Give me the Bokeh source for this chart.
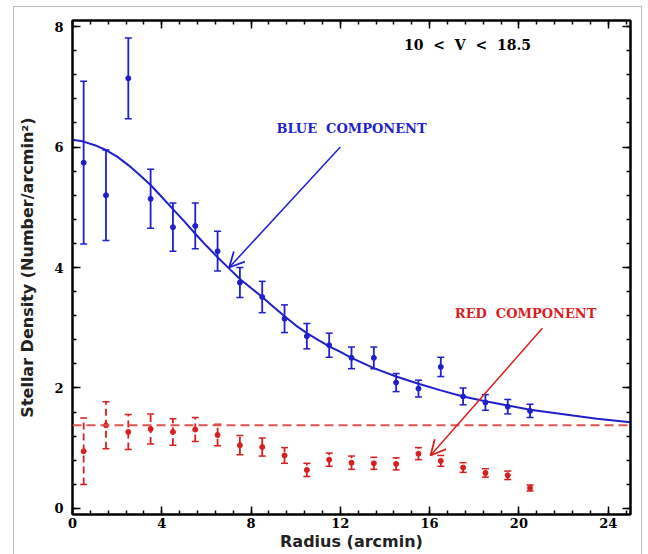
import numpy as np
from bokeh.plotting import figure
from bokeh.models import (ColumnDataSource, Whisker, TeeHead, Arrow, OpenHead, Span,
                          LinearAxis, SingleIntervalTicker, Range1d, Label,
                          CustomJSTickFormatter, InlineStyleSheet)
from bokeh.embed import file_html
from bokeh.resources import INLINE

# ---- data ----
radius = [0.5, 1.5, 2.5, 3.5, 4.5, 5.5, 6.5, 7.5, 8.5, 9.5, 10.5,
          11.5, 12.5, 13.5, 14.5, 15.5, 16.5, 17.5, 18.5, 19.5, 20.5]
blue_density = [5.74, 5.20, 7.14, 5.14, 4.67, 4.69, 4.27, 3.75, 3.51, 3.15, 2.86,
                2.71, 2.50, 2.50, 2.09, 1.99, 2.35, 1.86, 1.76, 1.69, 1.62]
blue_err = [1.35, 0.75, 0.67, 0.49, 0.40, 0.38, 0.33, 0.25, 0.26, 0.23, 0.21,
            0.20, 0.18, 0.18, 0.15, 0.14, 0.16, 0.14, 0.13, 0.12, 0.11]
red_density = [0.95, 1.38, 1.27, 1.32, 1.27, 1.31, 1.22, 1.05, 1.02, 0.88, 0.64,
               0.81, 0.76, 0.75, 0.74, 0.91, 0.79, 0.68, 0.59, 0.55, 0.34]
red_err = [0.55, 0.39, 0.29, 0.25, 0.22, 0.20, 0.18, 0.16, 0.15, 0.13, 0.11,
           0.11, 0.11, 0.10, 0.10, 0.10, 0.09, 0.08, 0.07, 0.07, 0.05]

# fitted profile (blue curve)
curve_r = [0, 0.5, 1.0, 1.5, 2.0, 2.5, 3.0, 3.5, 4.0, 4.5, 5.0, 5.5, 6.0, 6.5, 7.0,
           7.5, 8.0, 8.5, 9.0, 9.5, 10.0, 10.5, 11.0, 11.5, 12.0, 12.5, 13.5, 14.5,
           15.5, 16.5, 17.5, 18.5, 19.5, 20.5, 21.5, 22.5, 23.5, 25]
curve_d = [6.12, 6.09, 6.03, 5.95, 5.84, 5.70, 5.54, 5.37, 5.17, 4.97, 4.77, 4.56,
           4.36, 4.17, 3.99, 3.81, 3.66, 3.51, 3.35, 3.19, 3.04, 2.91, 2.80, 2.69,
           2.60, 2.50, 2.33, 2.19, 2.07, 1.96, 1.86, 1.78, 1.71, 1.64, 1.59, 1.54,
           1.49, 1.43]

red_background = 1.38

NB = "\u00a0"
# annotations
blue_label = ("BLUE" + NB * 2 + "COMPONENT", 12.5, 6.31)
red_label = ("RED" + NB * 2 + "COMPONENT", 20.3, 3.23)
mag_label = (("10", "<", "V", "<", "18.5"), 17.7, 7.69)
blue_arrow = (12.0, 6.0, 7.02, 4.0)
red_arrow = (21.05, 2.99, 16.04, 0.88)

BLUE = "#1f1fcc"
RED = "#d81e1e"
RED_LINE = "#e05252"

p = figure(width=648, height=554, x_range=Range1d(0, 25), y_range=Range1d(-0.1, 8.1),
           output_backend="svg", toolbar_location=None,
           min_border_left=72, min_border_right=18, min_border_top=20, min_border_bottom=40)
p.grid.visible = False
p.outline_line_color = "black"
p.outline_line_width = 2
p.background_fill_color = "white"
p.border_fill_color = "white"

# thin grey frame of the original screenshot, drawn by CSS around the canvas
p.stylesheets = [InlineStyleSheet(css=(
    ":host::after { content: ''; position: absolute; left: 13px; top: 6px; "
    "width: 629px; height: 560px; border: 1.5px solid #b8b8b8; "
    "pointer-events: none; box-sizing: border-box; }"))]

xt = SingleIntervalTicker(interval=4, num_minor_ticks=5)
yt = SingleIntervalTicker(interval=2, num_minor_ticks=5)


def style_axis(ax):
    ax.major_tick_in = 8
    ax.major_tick_out = 0
    ax.minor_tick_in = 4
    ax.minor_tick_out = 0
    ax.axis_line_width = 2
    ax.major_tick_line_width = 1.5
    ax.minor_tick_line_width = 1.5
    ax.major_label_text_font = "DejaVu Serif"
    ax.major_label_text_font_style = "bold"
    ax.major_label_text_font_size = "13px"
    ax.major_label_text_color = "black"


p.xaxis.ticker = xt
p.yaxis.ticker = yt
style_axis(p.xaxis[0])
style_axis(p.yaxis[0])
p.xaxis.major_label_standoff = 3
p.yaxis.major_label_standoff = 9
p.xaxis.axis_label = "Radius (arcmin)"
p.yaxis.axis_label = "Stellar Density (Number/arcmin\u00b2)"
for ax in (p.xaxis[0], p.yaxis[0]):
    ax.axis_label_text_font = "DejaVu Sans"
    ax.axis_label_text_font_style = "bold"
    ax.axis_label_text_font_size = "16px"
    ax.axis_label_text_color = "#222222"
p.xaxis.axis_label_standoff = 1
p.yaxis.axis_label_standoff = 14

for loc, tk in (("above", xt), ("right", yt)):
    ax = LinearAxis(ticker=tk, formatter=CustomJSTickFormatter(code="return ''"))
    style_axis(ax)
    ax.major_label_text_font_size = "0px"
    ax.major_label_standoff = 0
    p.add_layout(ax, loc)

# background level of the red component
p.add_layout(Span(location=red_background, dimension="width", line_color=RED_LINE,
                  line_width=2, line_dash="9 5"))

# blue curve
p.line(curve_r, curve_d, line_color=BLUE, line_width=2)

# blue points with error bars
bsrc = ColumnDataSource(dict(x=radius, y=blue_density,
                             lo=np.array(blue_density) - np.array(blue_err),
                             hi=np.array(blue_density) + np.array(blue_err)))
p.add_layout(Whisker(source=bsrc, base="x", lower="lo", upper="hi",
                     line_color=BLUE, line_width=1.8,
                     lower_head=TeeHead(size=7, line_color=BLUE, line_width=1.5),
                     upper_head=TeeHead(size=7, line_color=BLUE, line_width=1.5)))
p.scatter("x", "y", source=bsrc, size=5, color=BLUE)

# red points with dashed error bars
rsrc = ColumnDataSource(dict(x=radius, y=red_density,
                             lo=np.array(red_density) - np.array(red_err),
                             hi=np.array(red_density) + np.array(red_err)))
p.add_layout(Whisker(source=rsrc, base="x", lower="lo", upper="hi",
                     line_color=RED, line_width=1.8, line_dash="7 4",
                     lower_head=TeeHead(size=7, line_color=RED, line_width=1.5),
                     upper_head=TeeHead(size=7, line_color=RED, line_width=1.5)))
p.scatter("x", "y", source=rsrc, size=5, color=RED)

# arrows
for (xs, ys, xe, ye), col in ((blue_arrow, BLUE), (red_arrow, RED)):
    p.add_layout(Arrow(x_start=xs, y_start=ys, x_end=xe, y_end=ye,
                       line_color=col, line_width=1.5,
                       end=OpenHead(size=15, line_color=col, line_width=1.8)))

# labels
mag_text = (NB * 2).join(mag_label[0])
for (txt, lx, ly), col, fs in ((blue_label, BLUE, "13px"), (red_label, RED, "13px"),
                               ((mag_text, mag_label[1], mag_label[2]), "black", "14px")):
    p.add_layout(Label(x=lx, y=ly, text=txt, text_align="center", text_baseline="middle",
                       text_font="DejaVu Serif", text_font_style="bold",
                       text_font_size=fs, text_color=col))

open("out.html", "w").write(file_html(p, INLINE))
